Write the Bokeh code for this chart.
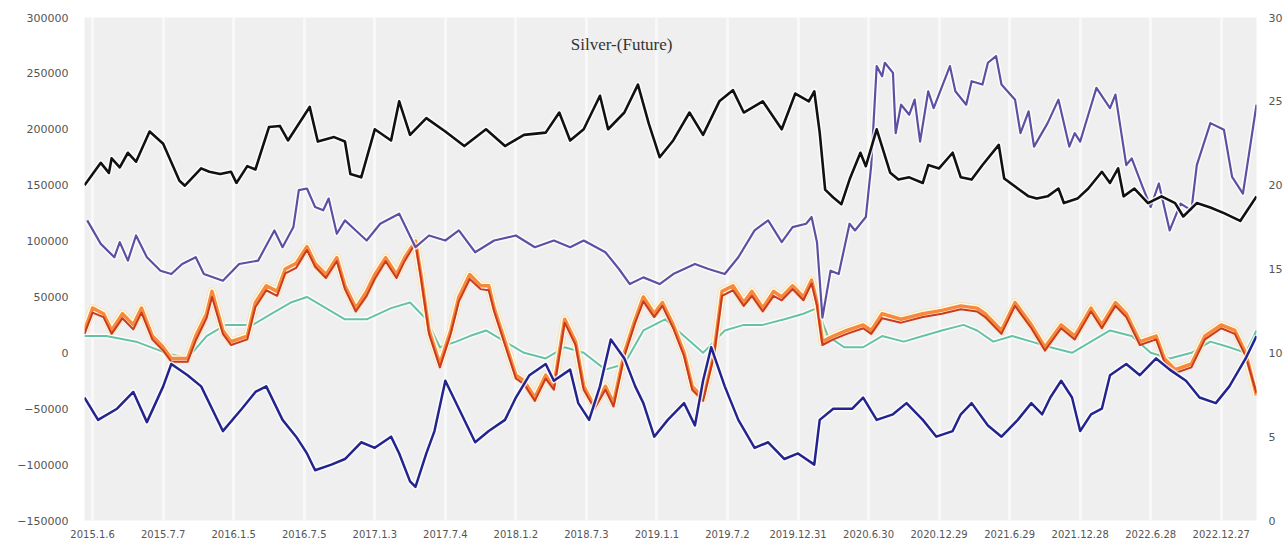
from bokeh.plotting import figure
from bokeh.models import Range1d, LinearAxis, FixedTicker, BasicTickFormatter, Label
from bokeh.embed import file_html
from bokeh.resources import INLINE

# x positions are week numbers counted from 2015-01-06 (weekly reports)
tick_weeks = [0, 26, 52, 78, 104, 130, 156, 182, 208, 234, 260, 286, 312, 338, 364, 390, 416]
tick_labels = ["2015.1.6", "2015.7.7", "2016.1.5", "2016.7.5", "2017.1.3", "2017.7.4",
               "2018.1.2", "2018.7.3", "2019.1.1", "2019.7.2", "2019.12.31", "2020.6.30",
               "2020.12.29", "2021.6.29", "2021.12.28", "2022.6.28", "2022.12.27"]

# open interest (left axis)
oi_weeks = [-3, 3, 6, 7, 10, 13, 16, 21, 26, 32, 34, 40, 43, 47, 51, 53, 57, 60, 65, 69, 72, 80, 83, 89, 93, 95, 99,
            104, 110, 113, 117, 123, 130, 137, 145, 152, 159, 167, 172, 176, 181, 187, 190, 196, 201, 205, 209, 214,
            220, 225, 231, 236, 240, 247, 254, 259, 264, 266, 268, 270, 273, 276, 279, 283, 285, 289, 294, 297, 301,
            306, 308, 312, 317, 320, 324, 328, 334, 336, 341, 345, 348, 352, 356, 358, 363, 367, 372, 375, 378, 380,
            384, 389, 394, 399, 402, 407, 412, 417, 423, 429]
oi_values = [150000, 170000, 161000, 174000, 166000, 179000, 171000, 198000, 187000, 154000, 149500, 165000, 162000,
             160000, 162000, 152000, 167000, 164000, 202000, 203000, 190000, 220000, 189000, 193000, 189000, 160000,
             157000, 200000, 190000, 225000, 195000, 210000, 198000, 185000, 200000, 185000, 195000, 197000, 215000,
             190000, 200000, 230000, 200000, 215000, 240000, 205000, 175000, 190000, 215000, 195000, 225000, 235000,
             215000, 225000, 200000, 232000, 225000, 234000, 197000, 146000, 139000, 133000, 155000, 179000, 167000,
             200000, 161000, 155000, 157000, 152000, 168000, 165000, 179000, 157000, 155000, 168000, 186000, 156000,
             147000, 140000, 138000, 140000, 147000, 134000, 138000, 147000, 162000, 152000, 165000, 140000, 147000,
             134000, 140000, 134000, 122000, 134000, 130000, 125000, 118000, 140000]

# silver price (right axis)
price_weeks = [-2, 3, 8, 10, 13, 16, 20, 25, 29, 33, 38, 41, 48, 54, 61, 67, 70, 74, 76, 79, 82, 85, 87, 90, 93, 97,
               101, 106, 113, 119, 124, 130, 135, 141, 148, 156, 163, 170, 176, 181, 189, 194, 198, 203, 209, 214,
               222, 227, 233, 238, 244, 249, 254, 258, 263, 265, 267, 269, 272, 275, 279, 281, 285, 287, 289, 291,
               292, 295, 296, 298, 301, 303, 305, 308, 310, 316, 318, 322, 324, 328, 330, 333, 335, 340, 342, 345,
               347, 352, 356, 360, 362, 364, 367, 370, 375, 377, 381, 383, 387, 390, 393, 397, 401, 405, 407, 412,
               417, 420, 424, 429]
price_values = [17.9, 16.5, 15.7, 16.6, 15.5, 17.0, 15.7, 14.9, 14.7, 15.3, 15.7, 14.7, 14.3, 15.3, 15.5, 17.3, 16.3,
                17.5, 19.7, 19.8, 18.7, 18.5, 19.2, 17.1, 17.9, 17.3, 16.7, 17.7, 18.3, 16.3, 17.0, 16.7, 17.3, 16.0,
                16.7, 17.0, 16.3, 16.7, 16.3, 16.7, 16.0, 15.0, 14.1, 14.5, 14.1, 14.7, 15.3, 15.0, 14.7, 15.7, 17.3,
                17.9, 16.6, 17.5, 17.7, 18.1, 16.6, 12.1, 14.9, 14.7, 17.7, 17.3, 18.1, 21.2, 27.1, 26.5, 27.3, 26.7,
                23.1, 24.8, 24.2, 25.1, 22.6, 25.6, 24.6, 27.1, 25.6, 24.8, 26.2, 26.0, 27.3, 27.7, 26.0, 25.1, 23.1,
                24.4, 22.3, 23.7, 25.1, 22.3, 23.1, 22.6, 24.2, 25.8, 24.6, 25.4, 21.2, 21.6, 19.9, 18.7, 20.1, 17.3,
                18.9, 18.5, 21.2, 23.7, 23.3, 20.5, 19.5, 24.8]

# commercial net (left axis, navy)
comm_weeks = [-3, 2, 9, 15, 20, 26, 29, 35, 40, 48, 55, 60, 64, 70, 75, 79, 82, 88, 93, 99, 104, 110, 113, 117, 119,
              123, 126, 130, 135, 141, 146, 152, 156, 161, 167, 170, 176, 179, 183, 187, 191, 196, 200, 203, 207, 212,
              218, 222, 225, 228, 233, 238, 244, 249, 255, 260, 266, 268, 273, 280, 284, 289, 295, 300, 306, 311, 317,
              320, 324, 330, 335, 341, 346, 350, 353, 357, 361, 364, 368, 372, 375, 381, 386, 392, 397, 403, 408, 414,
              419, 425, 429]
comm_values = [-40000, -60000, -50000, -35000, -62000, -30000, -10000, -20000, -30000, -70000, -50000, -35000, -30000,
               -60000, -75000, -90000, -105000, -100000, -95000, -80000, -85000, -75000, -90000, -115000, -120000,
               -90000, -70000, -25000, -50000, -80000, -70000, -60000, -40000, -20000, -10000, -25000, -15000, -45000,
               -60000, -30000, 12000, -5000, -30000, -45000, -75000, -60000, -45000, -65000, -25000, 5000, -30000,
               -60000, -85000, -80000, -95000, -90000, -100000, -60000, -50000, -50000, -40000, -60000, -55000, -45000,
               -60000, -75000, -70000, -55000, -45000, -65000, -75000, -60000, -45000, -55000, -40000, -25000, -40000,
               -70000, -55000, -50000, -20000, -10000, -20000, -5000, -15000, -25000, -40000, -45000, -30000, -5000,
               15000]

# speculative net (left axis, orange)
spec_weeks = [-3, 0, 4, 7, 11, 15, 18, 22, 26, 29, 35, 38, 42, 44, 48, 51, 57, 60, 64, 68, 71, 75, 79, 82, 86, 90, 93,
              97, 101, 104, 108, 112, 115, 119, 121, 124, 128, 132, 135, 139, 143, 146, 148, 152, 156, 159, 163, 167,
              170, 174, 178, 181, 185, 189, 192, 196, 200, 203, 207, 210, 214, 218, 221, 225, 229, 232, 236, 240, 243,
              247, 251, 254, 258, 262, 265, 267, 269, 273, 278, 284, 287, 291, 298, 306, 313, 320, 326, 329, 335, 340,
              346, 351, 357, 362, 368, 372, 377, 381, 386, 392, 395, 399, 405, 410, 416, 421, 425, 429]
spec_values = [20000, 40000, 35000, 20000, 35000, 25000, 40000, 15000, 5000, -5000, -5000, 15000, 35000, 55000, 20000,
               10000, 15000, 45000, 60000, 55000, 75000, 80000, 95000, 80000, 70000, 85000, 60000, 40000, 55000, 70000,
               85000, 70000, 85000, 100000, 70000, 20000, -10000, 20000, 50000, 70000, 60000, 60000, 40000, 10000,
               -20000, -25000, -40000, -20000, -30000, 30000, 10000, -30000, -48000, -30000, -45000, 0, 30000, 50000,
               35000, 45000, 25000, 0, -30000, -40000, 0, 55000, 60000, 45000, 55000, 40000, 55000, 50000, 60000, 50000,
               65000, 45000, 10000, 15000, 20000, 25000, 20000, 35000, 30000, 35000, 38000, 42000, 40000, 35000, 20000,
               45000, 25000, 5000, 25000, 15000, 40000, 25000, 45000, 35000, 10000, 15000, -5000, -15000, -10000,
               15000, 25000, 20000, 0, -38000]

# managed money net (left axis, red) - close to the orange series
mm_values = [17000, 36000, 32000, 17000, 31000, 21000, 36000, 12000, 2000, -8000, -8000, 11000, 31000, 50000, 17000,
             7000, 12000, 41000, 56000, 51000, 71000, 76000, 92000, 77000, 67000, 82000, 57000, 37000, 51000, 66000,
             82000, 67000, 82000, 98000, 67000, 17000, -13000, 17000, 46000, 66000, 57000, 56000, 37000, 7000,
             -23000, -28000, -43000, -23000, -33000, 27000, 7000, -33000, -50000, -33000, -48000, -3000, 27000, 46000,
             32000, 42000, 22000, -3000, -33000, -43000, -3000, 51000, 56000, 42000, 51000, 37000, 51000, 47000, 57000,
             47000, 62000, 42000, 7000, 12000, 17000, 22000, 17000, 31000, 27000, 32000, 35000, 39000, 37000, 32000,
             17000, 42000, 22000, 2000, 22000, 12000, 37000, 22000, 42000, 32000, 7000, 12000, -8000, -18000, -13000,
             12000, 22000, 17000, -3000, -36000]

# other reportables net (left axis, teal)
other_weeks = [-3, 5, 16, 27, 35, 42, 49, 59, 66, 73, 79, 86, 93, 101, 110, 117, 123, 128, 134, 139, 145, 152, 159,
               167, 174, 181, 189, 196, 203, 211, 218, 225, 233, 240, 247, 255, 262, 267, 271, 277, 284, 291, 299,
               306, 313, 321, 326, 332, 339, 346, 353, 361, 368, 375, 383, 390, 397, 405, 412, 419, 425, 429]
other_values = [15000, 15000, 10000, 0, -5000, 15000, 25000, 25000, 35000, 45000, 50000, 40000, 30000, 30000, 40000,
                45000, 30000, 5000, 10000, 15000, 20000, 10000, 0, -5000, 5000, 0, -15000, -10000, 20000, 30000,
                15000, 0, 20000, 25000, 25000, 30000, 35000, 40000, 15000, 5000, 5000, 15000, 10000, 15000, 20000,
                25000, 20000, 10000, 15000, 10000, 5000, 0, 10000, 20000, 15000, 0, -5000, 0, 10000, 5000, 0, 20000]

p = figure(width=1285, height=540, output_backend="svg", toolbar_location=None,
           x_range=Range1d(-3, 429), y_range=Range1d(-150000, 300000),
           min_border_left=84, min_border_right=22, min_border_top=17, min_border_bottom=17,
           background_fill_color="#efefef", border_fill_color="white", outline_line_color=None)
p.extra_y_ranges = {"price": Range1d(0, 30)}

# grid
p.xgrid.ticker = FixedTicker(ticks=tick_weeks)
p.xgrid.grid_line_color = "white"
p.xgrid.grid_line_width = 3
p.xgrid.grid_line_alpha = 0.55
p.ygrid.grid_line_color = None

# axes
p.xaxis.ticker = FixedTicker(ticks=tick_weeks)
p.xaxis.major_label_overrides = {w: t for w, t in zip(tick_weeks, tick_labels)}
p.yaxis.ticker = FixedTicker(ticks=list(range(-150000, 300001, 50000)))
p.yaxis.formatter = BasicTickFormatter(use_scientific=False)
for ax in [p.xaxis, p.yaxis]:
    ax.axis_line_color = None
    ax.major_tick_line_color = None
    ax.minor_tick_line_color = None
    ax.major_label_text_color = "#555555"
    ax.major_label_text_font = "DejaVu Sans"
p.xaxis.major_label_text_font_size = "10px"
p.xaxis.major_label_standoff = 3
p.yaxis.major_label_text_font_size = "11px"
p.yaxis.major_label_standoff = 10

right = LinearAxis(y_range_name="price", ticker=FixedTicker(ticks=[0, 5, 10, 15, 20, 25, 30]))
right.axis_line_color = None
right.major_tick_line_color = None
right.minor_tick_line_color = None
right.major_label_text_color = "#555555"
right.major_label_text_font_size = "11px"
right.major_label_text_font = "DejaVu Sans"
right.major_label_standoff = 6
p.add_layout(right, "right")

# lines (white halo underneath each)
def halo_line(x, y, color, width, **kw):
    p.line(x, y, line_color="white", line_width=width + 3, line_alpha=0.8, line_join="round", **kw)
    p.line(x, y, line_color=color, line_width=width, line_join="round", **kw)

halo_line(other_weeks, other_values, "#66c2a5", 2)
p.line(spec_weeks, spec_values, line_color="#fdd36e", line_width=8, line_alpha=0.55, line_join="round")
halo_line(spec_weeks, spec_values, "#f5893c", 3.5)
p.line(spec_weeks, mm_values, line_color="#c93a22", line_width=2, line_join="round")
halo_line(comm_weeks, comm_values, "#24248f", 2.5)
halo_line(price_weeks, price_values, "#5e4fa2", 2.2, y_range_name="price")
halo_line(oi_weeks, oi_values, "#111111", 2.6)

p.add_layout(Label(x=195, y=275500, text="Silver-(Future)", text_font="Liberation Serif",
                   text_font_size="17px", text_align="center", text_baseline="middle",
                   text_color="#333333"))

html = file_html(p, INLINE)
html = html.replace("<head>", "<head><style>html, body { overflow: hidden; }</style>", 1)
open("out.html", "w").write(html)
